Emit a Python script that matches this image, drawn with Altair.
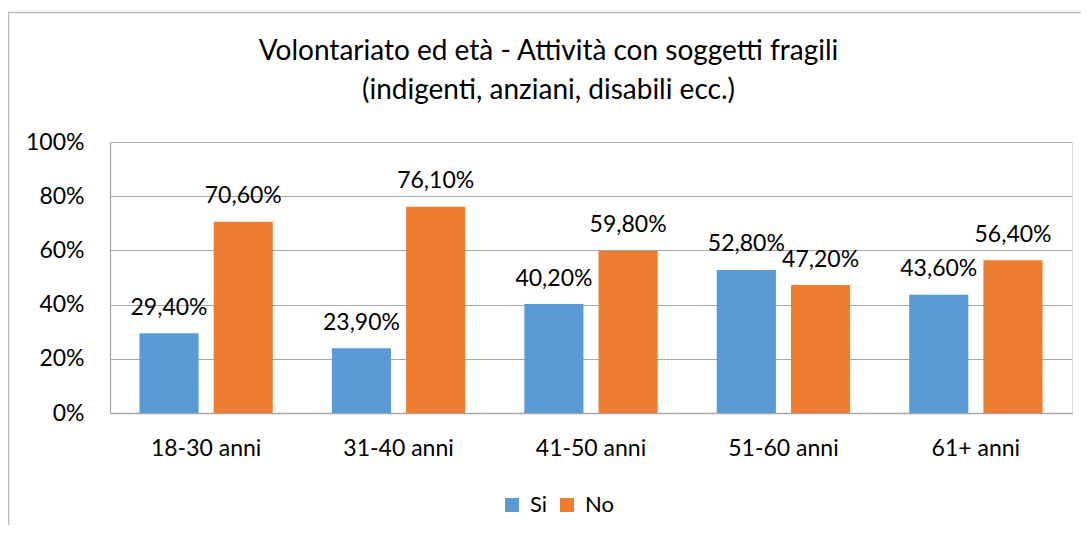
import altair as alt
import pandas as pd

categories = ["18-30 anni", "31-40 anni", "41-50 anni", "51-60 anni", "61+ anni"]
series_names = ["Si", "No"]
si_values = [29.4, 23.9, 40.2, 52.8, 43.6]
no_values = [70.6, 76.1, 59.8, 47.2, 56.4]
y_ticks = [0, 20, 40, 60, 80, 100]
colors = ["#5B9BD5", "#ED7D31"]

rows = []
for c, s, n in zip(categories, si_values, no_values):
    rows.append({"cat": c, "serie": "Si", "v": s})
    rows.append({"cat": c, "serie": "No", "v": n})
df = pd.DataFrame(rows)

FONT = "Lato"
GRID = "#A6A6A6"

base = alt.Chart(df).encode(
    x=alt.X("cat:N", sort=categories, title=None,
            scale=alt.Scale(paddingInner=0.307, paddingOuter=0.153),
            axis=alt.Axis(labelAngle=0, ticks=False, labelPadding=24, domainColor=GRID,
                          domainWidth=1.5, labelFontSize=23, labelFont=FONT, labelColor="#000000")),
    xOffset=alt.XOffset("serie:N", sort=series_names,
                        scale=alt.Scale(paddingInner=0.203, paddingOuter=0)),
)

bars = base.mark_bar().encode(
    y=alt.Y("v:Q", title=None,
            scale=alt.Scale(domain=[0, 100]),
            axis=alt.Axis(values=y_ticks, labelExpr="datum.value + '%'", ticks=False,
                          labelPadding=26, grid=True, gridColor=GRID, gridWidth=1.2,
                          domainColor=GRID, domainWidth=1.2, labelFontSize=23,
                          labelFont=FONT, labelColor="#000000")),
    color=alt.Color("serie:N", sort=series_names,
                    scale=alt.Scale(domain=series_names, range=colors),
                    legend=alt.Legend(title=None, orient="none", legendX=391, legendY=352,
                                      direction="horizontal", columns=2, symbolType="square",
                                      symbolSize=196, symbolStrokeWidth=0, labelFontSize=22,
                                      labelFont=FONT, labelColor="#000000", labelOffset=7,
                                      columnPadding=8, padding=0)),
)

labels = base.mark_text(baseline="alphabetic", dy=-18.5, fontSize=23, font=FONT,
                        color="#000000").encode(
    y=alt.Y("v:Q"),
    text=alt.Text("lab:N"),
).transform_calculate(lab="replace(format(datum.v / 100, '.2%'), '.', ',')")

frame = alt.Chart(alt.Data(values=[{"f": 1}])).mark_rect(
    fill=None, stroke="#BBBBBB", strokeWidth=1.5
).encode(
    x=alt.value(-101.5), x2=alt.value(1000), y=alt.value(-129.5), y2=alt.value(500)
)

chart = alt.layer(frame, bars, labels).properties(
    width=962, height=271,
    autosize=alt.AutoSizeParams(type="none"),
    padding={"left": 102, "top": 134, "right": 9, "bottom": 112},
    title=alt.TitleParams(
        text=["Volontariato ed età - Attività con soggetti fragili",
              "(indigenti, anziani, disabili ecc.)"],
        font=FONT, fontSize=28, fontWeight="normal", color="#000000",
        lineHeight=39, offset=-93, dx=-42.5, anchor="middle", frame="group"),
).configure_view(stroke=None).configure(background="white")

chart.save("out.html", embed_options={"renderer": "svg", "actions": False})
